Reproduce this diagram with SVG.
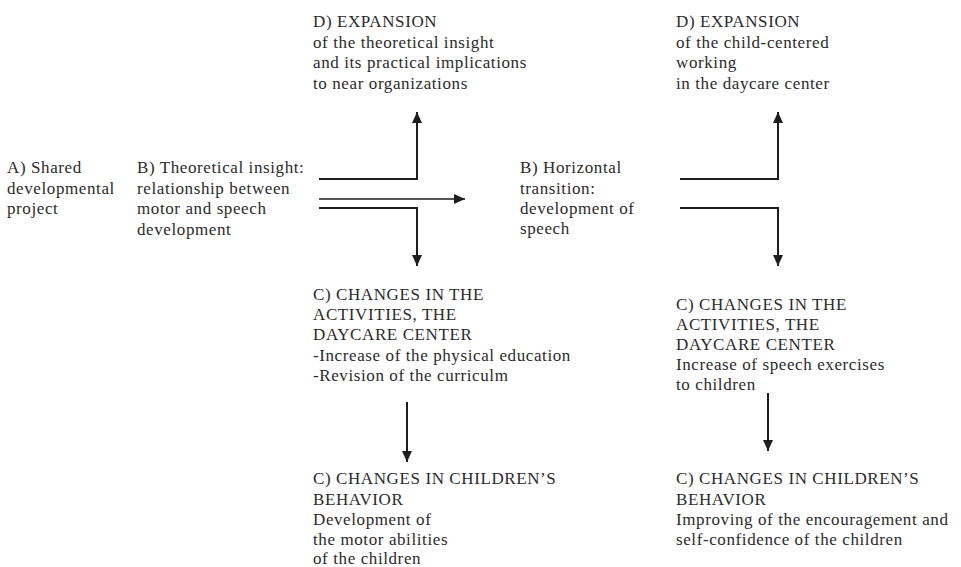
<svg xmlns="http://www.w3.org/2000/svg" width="961" height="567" viewBox="0 0 961 567">
<defs>
<style>
text{font-family:"Liberation Serif","Times New Roman",serif;font-size:17px;letter-spacing:0.6px;fill:#2b2b2b}
.ln{fill:none;stroke:#1e1e1e;stroke-width:2}
.thin{stroke-width:1.6}
</style>
<marker id="ah" markerUnits="userSpaceOnUse" markerWidth="12" markerHeight="11" refX="11" refY="5.5" orient="auto">
<path d="M0,0.5 L11,5.5 L0,10.5 z" fill="#1e1e1e"/>
</marker>
</defs>
<rect width="961" height="567" fill="#fff"/>
<g id="nodeA"><text x="7" y="173">A) Shared</text><text x="7" y="193.5">developmental</text><text x="7" y="214">project</text></g>
<g id="nodeB1"><text x="137" y="173">B) Theoretical insight:</text><text x="137" y="193.5">relationship between</text><text x="137" y="214">motor and speech</text><text x="137" y="234.5">development</text></g>
<g id="nodeD1"><text x="313" y="27">D) EXPANSION</text><text x="313" y="47.5">of the theoretical insight</text><text x="313" y="68">and its practical implications</text><text x="313" y="89">to near organizations</text></g>
<g id="nodeC1"><text x="313" y="299.5">C) CHANGES IN THE</text><text x="313" y="320">ACTIVITIES, THE</text><text x="313" y="340">DAYCARE CENTER</text><text x="313" y="360.5">-Increase of the physical education</text><text x="313" y="381">-Revision of the curriculm</text></g>
<g id="nodeE1"><text x="313" y="484">C) CHANGES IN CHILDREN’S</text><text x="313" y="504.5">BEHAVIOR</text><text x="313" y="524.5">Development of</text><text x="313" y="544.5">the motor abilities</text><text x="313" y="564">of the children</text></g>
<g id="nodeB2"><text x="520" y="173">B) Horizontal</text><text x="520" y="193.5">transition:</text><text x="520" y="214">development of</text><text x="520" y="234">speech</text></g>
<g id="nodeD2"><text x="676" y="27">D) EXPANSION</text><text x="676" y="47.5">of the child-centered</text><text x="676" y="68">working</text><text x="676" y="89">in the daycare center</text></g>
<g id="nodeC2"><text x="676" y="309.5">C) CHANGES IN THE</text><text x="676" y="329.5">ACTIVITIES, THE</text><text x="676" y="349.5">DAYCARE CENTER</text><text x="676" y="370">Increase of speech exercises</text><text x="676" y="390">to children</text></g>
<g id="nodeE2"><text x="676" y="484">C) CHANGES IN CHILDREN’S</text><text x="676" y="504.5">BEHAVIOR</text><text x="676" y="524.5">Improving of the encouragement and</text><text x="676" y="545">self-confidence of the children</text></g>
<g id="connectors">
<path class="ln" d="M319,179 H417 V112" marker-end="url(#ah)"/>
<path class="ln thin" d="M319,199 H465" marker-end="url(#ah)"/>
<path class="ln" d="M319,208 H417 V266" marker-end="url(#ah)"/>
<path class="ln" d="M407,402 V462" marker-end="url(#ah)"/>
<path class="ln" d="M680,179 H778 V112" marker-end="url(#ah)"/>
<path class="ln" d="M680,208 H778 V266" marker-end="url(#ah)"/>
<path class="ln" d="M768,393 V451" marker-end="url(#ah)"/>
</g>
</svg>
